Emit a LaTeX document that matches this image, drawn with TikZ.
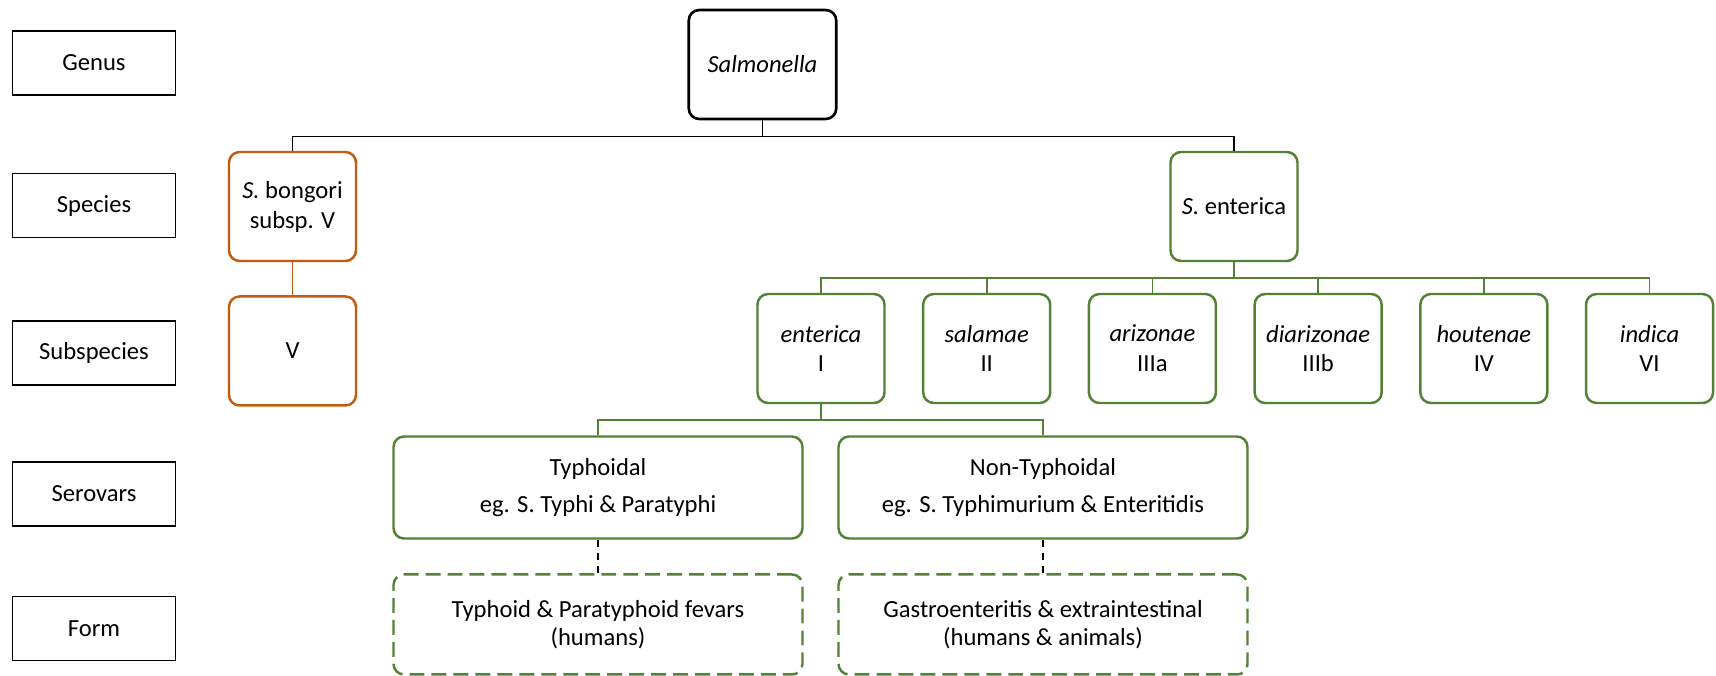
\documentclass[tikz,border=0pt]{standalone}
\usepackage{fontspec}
\setmainfont{Carlito}
\usepackage{xcolor}
\usetikzlibrary{positioning,calc}
\definecolor{leaf}{HTML}{548235}
\definecolor{rust}{HTML}{C55A11}

\begin{document}
\begin{tikzpicture}[
font=\fontsize{14}{17}\selectfont,
rank/.style={draw,line width=.9pt,align=center,minimum width=3.26cm,minimum height=1.28cm},
genusbox/.style={draw,line width=1.5pt,rounded corners=6pt,align=center,minimum width=2.95cm,minimum height=2.18cm},
taxon/.style={draw,line width=1.4pt,rounded corners=6pt,align=center,minimum width=2.54cm,minimum height=2.18cm},
bong/.style={taxon,draw=rust},
ent/.style={taxon,draw=leaf},
sero/.style={ent,minimum width=8.18cm,minimum height=2.04cm},
disease/.style={draw=leaf,line width=1.4pt,dash pattern=on 8.5pt off 4pt,rounded corners=6pt,align=center,minimum width=8.18cm,minimum height=2cm,font=\fontsize{14}{15.7}\selectfont},
blk/.style={line width=.8pt},
grn/.style={draw=leaf,line width=.9pt},
org/.style={draw=rust,line width=.9pt},
dsh/.style={line width=.8pt,dash pattern=on 4pt off 3.5pt}]
\useasboundingbox (0,0) rectangle (34.32,-13.5);
% rank labels
\node[rank] (genus) at (1.88,-1.26) {Genus};
\node[rank,below=1.54cm of genus] (species) {Species};
\node[rank,below=1.64cm of species] (subsp) {Subspecies};
\node[rank,below=1.5cm of subsp] (serovar) {Serovars};
\node[rank,below=1.38cm of serovar] (form) {Form};
% tree
\node[genusbox] (salm) at (15.25,-1.29) {\textit{Salmonella}};
\node[bong] (bongori) at (5.85,-4.13) {\textit{S.} bongori\\subsp. V};
\node[ent] (senterica) at (24.68,-4.13) {\textit{S.} enterica};
\node[bong,below=0.66cm of bongori] (sV) {V};
\node[ent] (sI) at (16.42,-6.97) {\textit{enterica}\\I};
\node[ent,right=0.725cm of sI] (sII) {\textit{salamae}\\II};
\node[ent,right=0.725cm of sII] (sIIIa) {\textit{arizonae}\\IIIa};
\node[ent,right=0.725cm of sIIIa] (sIIIb) {\textit{diarizonae}\\IIIb};
\node[ent,right=0.725cm of sIIIb] (sIV) {\textit{houtenae}\\IV};
\node[ent,right=0.725cm of sIV] (sVI) {\textit{indica}\\VI};
\node[sero] (typh) at (11.96,-9.75) {Typhoidal\\[3.8pt]eg. S. Typhi \& Paratyphi};
\node[sero] (nontyph) at (20.86,-9.75) {Non-Typhoidal\\[3.8pt]eg. S. Typhimurium \& Enteritidis};
\node[disease,below=0.67cm of typh] (ftyph) {Typhoid \& Paratyphoid fevars\\(humans)};
\node[disease,below=0.67cm of nontyph] (fnontyph) {Gastroenteritis \& extraintestinal\\(humans \& animals)};
% connectors
\draw[blk](salm.south)--++(0,-0.32)coordinate(b0);\draw[blk](bongori.north)|-(b0)-|(senterica.north);
\draw[org](bongori)--(sV);
\draw[grn](senterica.south)--++(0,-0.32)coordinate(b1);
\foreach \s in {sI,sII,sIIIa,sIIIb,sIV,sVI}{\draw[grn](\s.north)|-(b1);}
\draw[grn](sI.south)--++(0,-0.32)coordinate(b2);\draw[grn](typh.north)|-(b2)-|(nontyph.north);
\draw[dsh](typh)--(ftyph);\draw[dsh](nontyph)--(fnontyph);
\end{tikzpicture}
\end{document}
